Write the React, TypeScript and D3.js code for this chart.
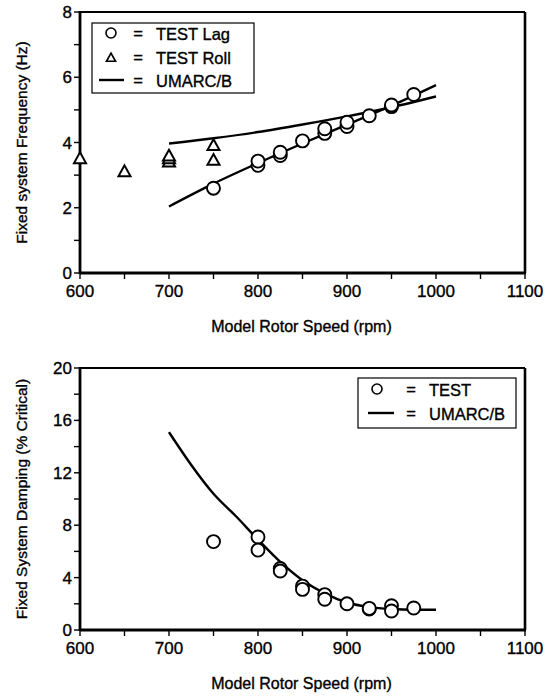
import React from "react";
import * as d3 from "d3";

// ---- Top chart: Fixed system frequency ----
const lagRpm = [750, 800, 800, 825, 825, 850, 875, 875, 900, 900, 925, 950, 950, 975];
const lagHz = [2.6, 3.3, 3.43, 3.6, 3.7, 4.05, 4.28, 4.42, 4.49, 4.62, 4.82, 5.1, 5.15, 5.47];

const rollRpm = [600, 650, 700, 700, 700, 750, 750];
const rollHz = [3.5, 3.1, 3.4, 3.5, 3.58, 3.9, 3.45];

const umarcFreqRpm = [700, 750, 800, 850, 900, 950, 1000];
const umarcRollHz = [3.97, 4.13, 4.32, 4.55, 4.8, 5.08, 5.41];
const umarcLagHz = [2.04, 2.74, 3.37, 3.97, 4.55, 5.13, 5.76];

// ---- Bottom chart: Fixed system damping ----
const testRpm = [750, 800, 800, 825, 825, 850, 850, 875, 875, 900, 925, 925, 950, 950, 975];
const testDamp = [6.75, 7.1, 6.1, 4.7, 4.5, 3.35, 3.1, 2.7, 2.35, 2.0, 1.6, 1.65, 1.85, 1.45, 1.68];

const umarcDampRpm = [700, 725, 750, 775, 800, 825, 850, 875, 900, 925, 950, 975, 1000];
const umarcDamp = [15.1, 12.6, 10.4, 8.7, 6.9, 5.2, 3.8, 2.8, 2.1, 1.75, 1.6, 1.55, 1.55];

const xTicks = [600, 700, 800, 900, 1000, 1100];
const xMinorTicks = [650, 750, 850, 950, 1050];
const freqTicks = [0, 2, 4, 6, 8];
const freqMinor = [1, 3, 5, 7];
const dampTicks = [0, 4, 8, 12, 16, 20];
const dampMinor = [2, 6, 10, 14, 18];

const FONT = "'Liberation Sans', Arial, Helvetica, sans-serif";
const TXT = { stroke: "#000", strokeWidth: 0.35 };

type Pt = [number, number];

function Frame({ x, y, yTicks, yMinor, yTitle, xTitleY }: any) {
  const [x0, x1] = x.range();
  const [y0, y1] = y.range();
  return (
    <g>
      <line x1={x0} x2={x1} y1={y1} y2={y1} stroke="#000" strokeWidth={2.2} />
      <line x1={x1} x2={x1} y1={y1} y2={y0} stroke="#000" strokeWidth={2.6} />
      <line x1={x0} x2={x1 + 1} y1={y0} y2={y0} stroke="#000" strokeWidth={2.8} />
      <line x1={x0} x2={x0} y1={y1 - 1} y2={y0 + 1} stroke="#000" strokeWidth={2.8} />
      {xTicks.concat(xMinorTicks).map((t) => (
        <line key={"xt" + t} x1={x(t)} x2={x(t)} y1={y0} y2={y0 + 6} stroke="#000" strokeWidth={1.4} />
      ))}
      {xTicks.map((t) => (
        <text key={"xl" + t} x={x(t)} y={y0 + 24} textAnchor="middle" fontSize={17} fontFamily={FONT} {...TXT}>
          {t}
        </text>
      ))}
      {yTicks.concat(yMinor).map((t: number) => (
        <line key={"yt" + t} x1={x0 - 6} x2={x0} y1={y(t)} y2={y(t)} stroke="#000" strokeWidth={1.4} />
      ))}
      {yTicks.map((t: number) => (
        <text key={"yl" + t} x={x0 - 8} y={y(t) + 6} textAnchor="end" fontSize={17} fontFamily={FONT} {...TXT}>
          {t}
        </text>
      ))}
      <text
        transform={`translate(27,${(y0 + y1) / 2}) rotate(-90)`}
        textAnchor="middle"
        fontSize={15.5}
        fontFamily={FONT}
        {...TXT}
      >
        {yTitle}
      </text>
      <text x={(x0 + x1) / 2 - 1} y={xTitleY} textAnchor="middle" fontSize={16} fontFamily={FONT} {...TXT}>
        Model Rotor Speed (rpm)
      </text>
    </g>
  );
}

function triPath(cx: number, cy: number, s: number) {
  const h = s * 0.9;
  return `M${cx},${cy - h * 0.6}L${cx + s / 2},${cy + h * 0.4}L${cx - s / 2},${cy + h * 0.4}Z`;
}

export default function App() {
  const W = 552;
  const H = 696;
  const x1 = d3.scaleLinear().domain([600, 1100]).range([80, 525]);
  const y1 = d3.scaleLinear().domain([0, 8]).range([273, 12]);
  const x2 = d3.scaleLinear().domain([600, 1100]).range([80, 525]);
  const y2 = d3.scaleLinear().domain([0, 20]).range([630, 368]);

  const lineTop = d3
    .line<Pt>()
    .x((d) => x1(d[0]))
    .y((d) => y1(d[1]))
    .curve(d3.curveMonotoneX);
  const lineBot = d3
    .line<Pt>()
    .x((d) => x2(d[0]))
    .y((d) => y2(d[1]))
    .curve(d3.curveMonotoneX);

  const rollLine: Pt[] = umarcFreqRpm.map((r, i) => [r, umarcRollHz[i]]);
  const lagLine: Pt[] = umarcFreqRpm.map((r, i) => [r, umarcLagHz[i]]);
  const dampLine: Pt[] = umarcDampRpm.map((r, i) => [r, umarcDamp[i]]);

  const R = 6.5;

  return (
    <svg width={W} height={H} style={{ position: "absolute", left: 0, top: 0, background: "#fff" }}>
      <rect width={W} height={H} fill="#fff" />
      {/* ---------- Top chart ---------- */}
      <Frame x={x1} y={y1} yTicks={freqTicks} yMinor={freqMinor} yTitle="Fixed system Frequency (Hz)" xTitleY={332} />
      <path d={lineTop(rollLine) || ""} fill="none" stroke="#000" strokeWidth={2.4} />
      <path d={lineTop(lagLine) || ""} fill="none" stroke="#000" strokeWidth={2.4} />
      {lagRpm.map((r, i) => (
        <circle key={"lag" + i} cx={x1(r)} cy={y1(lagHz[i])} r={R} fill="#fff" stroke="#000" strokeWidth={1.9} />
      ))}
      {rollRpm.map((r, i) => (
        <path key={"roll" + i} d={triPath(x1(r), y1(rollHz[i]), 12)} fill="#fff" stroke="#000" strokeWidth={2} strokeLinejoin="miter" />
      ))}
      <g fontFamily={FONT} fontSize={16.5}>
        <rect x={92} y={23} width={162} height={70} fill="#fff" stroke="#000" strokeWidth={1.2} />
        <circle cx={111} cy={33} r={5} fill="#fff" stroke="#000" strokeWidth={1.6} />
        <text x={138} y={39} textAnchor="middle" {...TXT}>=</text>
        <text x={156} y={40} {...TXT}>TEST Lag</text>
        <path d={triPath(111, 58, 9)} fill="#fff" stroke="#000" strokeWidth={1.7} />
        <text x={138} y={63} textAnchor="middle" {...TXT}>=</text>
        <text x={156} y={64} {...TXT}>TEST Roll</text>
        <line x1={99} x2={124} y1={80} y2={80} stroke="#000" strokeWidth={2.4} />
        <text x={138} y={86} textAnchor="middle" {...TXT}>=</text>
        <text x={156} y={87} {...TXT}>UMARC/B</text>
      </g>

      {/* ---------- Bottom chart ---------- */}
      <Frame x={x2} y={y2} yTicks={dampTicks} yMinor={dampMinor} yTitle="Fixed System Damping (% Critical)" xTitleY={689} />
      <path d={lineBot(dampLine) || ""} fill="none" stroke="#000" strokeWidth={2.4} />
      {testRpm.map((r, i) => (
        <circle key={"t" + i} cx={x2(r)} cy={y2(testDamp[i])} r={R} fill="#fff" stroke="#000" strokeWidth={1.9} />
      ))}
      <g fontFamily={FONT} fontSize={16.5}>
        <rect x={358} y={378} width={158} height={50} fill="#fff" stroke="#000" strokeWidth={1.2} />
        <circle cx={377} cy={389} r={5} fill="#fff" stroke="#000" strokeWidth={1.6} />
        <text x={411} y={395} textAnchor="middle" {...TXT}>=</text>
        <text x={429} y={396} {...TXT}>TEST</text>
        <line x1={368} x2={394} y1={413} y2={413} stroke="#000" strokeWidth={2.4} />
        <text x={411} y={419} textAnchor="middle" {...TXT}>=</text>
        <text x={429} y={420} {...TXT}>UMARC/B</text>
      </g>
    </svg>
  );
}
